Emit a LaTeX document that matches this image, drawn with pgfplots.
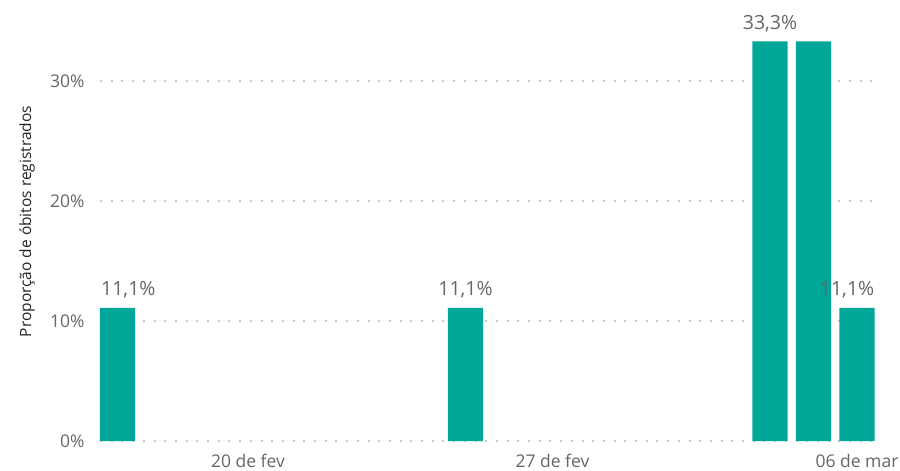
\documentclass[border=0pt]{standalone}
\usepackage{fontspec}
\setmainfont{Open Sans}
\usepackage{pgfplots}
\pgfplotsset{compat=1.18}
\definecolor{barteal}{HTML}{01A89A}
\definecolor{ticktext}{HTML}{666666}
\definecolor{titletext}{HTML}{252423}
\definecolor{gridc}{HTML}{C8C8C8}
\begin{document}
\begin{tikzpicture}
\path[use as bounding box] (0,0) rectangle (900bp,471bp);
\begin{axis}[
  at={(100bp,30bp)}, anchor=south west,
  scale only axis, width=775bp, height=432bp,
  xmin=-0.4023, xmax=17.414, ymin=0, ymax=36,
  axis line style={draw=none},
  major tick length=0pt,
  ytick={0,10,20,30},
  yticklabels={0\%,10\%,20\%,30\%},
  xtick={3,10,17},
  xticklabels={20 de fev,27 de fev,06 de mar},
  ymajorgrids,
  grid style={gridc, line width=2bp, dash pattern=on 2bp off 8.7bp},
  yticklabel style={anchor=east, xshift=-12bp, text=ticktext, font=\fontsize{17.5bp}{20bp}\selectfont},
  xticklabel style={anchor=base, yshift=-26bp, text=ticktext, font=\fontsize{17.5bp}{20bp}\selectfont},
  ylabel={Proporção de óbitos registrados},
  ylabel style={at={(axis description cs:-0.094,0.508)}, anchor=center, text=titletext, font=\fontsize{15.5bp}{18bp}\selectfont},
  clip=false,
]
\addplot[ybar, bar width=35bp, fill=barteal, draw=none] coordinates {
  (0,11.1) (8,11.1) (15,33.3) (16,33.3) (17,11.1)
};
\begin{scope}[every node/.style={text=ticktext, font=\fontsize{19.5bp}{22bp}\selectfont, inner sep=0pt}]
\node[anchor=base west] at (axis cs:-0.38,11.1) [yshift=12bp] {11,1\%};
\node[anchor=base] at (axis cs:8,11.1) [yshift=12bp] {11,1\%};
\node[anchor=base] at (axis cs:15,33.3) [yshift=12bp] {33,3\%};
\node[anchor=base east] at (axis cs:17.4,11.1) [yshift=12bp] {11,1\%};
\end{scope}
\end{axis}
\end{tikzpicture}
\end{document}
